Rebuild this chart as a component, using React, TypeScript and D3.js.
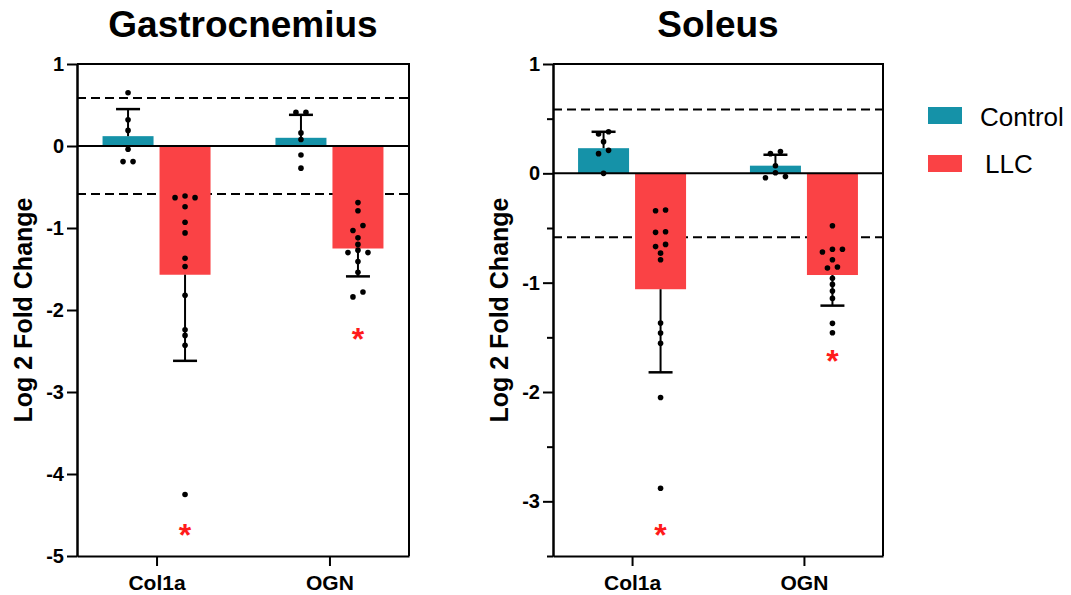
import * as d3 from "d3";
import React, { useRef, useEffect } from "react";

const categories = ["Col1a", "OGN"];
const groups = ["Control", "LLC"];
const groupColors = ["#1592A8", "#FA4245"];

// Gastrocnemius
const gastroControlMean = [0.12, 0.1];
const gastroControlSD = [0.33, 0.28];
const gastroLLCMean = [-1.57, -1.25];
const gastroLLCSD = [1.05, 0.34];
const gastroControlPts = [
  [0.65, 0.32, 0.19, -0.04, -0.19, -0.19],
  [0.41, 0.41, 0.16, 0.08, -0.11, -0.27],
];
const gastroLLCPts = [
  [-0.61, -0.63, -0.63, -0.74, -0.93, -1.06, -1.37, -1.47, -1.82, -2.24, -2.31, -2.43, -4.25],
  [-0.69, -0.79, -0.97, -1.03, -1.12, -1.2, -1.27, -1.3, -1.3, -1.41, -1.54, -1.78, -1.84],
];
const gastroStars = [-4.65, -2.27];

// Soleus
const soleusControlMean = [0.23, 0.07];
const soleusControlSD = [0.15, 0.1];
const soleusLLCMean = [-1.06, -0.93];
const soleusLLCSD = [0.76, 0.28];
const soleusControlPts = [
  [0.38, 0.36, 0.29, 0.21, 0.18, 0.0],
  [0.2, 0.18, 0.07, 0.005, -0.03, -0.04],
];
const soleusLLCPts = [
  [-0.336, -0.342, -0.534, -0.54, -0.65, -0.67, -0.73, -0.79, -1.37, -1.46, -1.555, -2.05, -2.88],
  [-0.48, -0.695, -0.695, -0.72, -0.79, -0.857, -0.866, -0.96, -1.016, -1.077, -1.144, -1.372, -1.458],
];
const soleusStars = [-3.24, -1.65];

const cutoff = Math.log2(1.5); // dashed lines at +/- 1.5 fold

const font = "'Liberation Sans', Arial, sans-serif";

const panels = [
  {
    title: "Gastrocnemius",
    domain: [-5, 1],
    left: 77,
    right: 409,
    means: [gastroControlMean, gastroLLCMean],
    sds: [gastroControlSD, gastroLLCSD],
    pts: [gastroControlPts, gastroLLCPts],
    stars: gastroStars,
  },
  {
    title: "Soleus",
    domain: [-3.5, 1],
    left: 553,
    right: 883,
    means: [soleusControlMean, soleusLLCMean],
    sds: [soleusControlSD, soleusLLCSD],
    pts: [soleusControlPts, soleusLLCPts],
    stars: soleusStars,
  },
];

// spread points that would overlap into a little row
function dodge(values, y) {
  const sorted = values.slice().sort((a, b) => b - a);
  const out = [];
  let i = 0;
  while (i < sorted.length) {
    const start = y(sorted[i]);
    let j = i;
    while (j < sorted.length && y(sorted[j]) - start < 5.3) j++;
    const n = j - i;
    for (let k = 0; k < n; k++) {
      let off;
      if (n % 2 === 1) {
        off = k === 0 ? 0 : Math.ceil(k / 2) * 10 * (k % 2 === 1 ? 1 : -1);
      } else {
        off = (Math.floor(k / 2) * 10 + 5) * (k % 2 === 0 ? 1 : -1);
      }
      out.push({ v: sorted[i + k], dx: off });
    }
    i = j;
  }
  return out;
}

function Chart() {
  const ref = useRef();

  useEffect(() => {
    const svg = d3.select(ref.current);
    svg.selectAll("*").remove();
    draw(svg);
  }, []);

  const draw = (svg) => {
    const top = 64,
      bottom = 556,
      barW = 51,
      half = 28.5;

    panels.forEach((p) => {
      const y = d3.scaleLinear().domain(p.domain).range([bottom, top]);
      const x = d3.scalePoint().domain(categories).range([p.left, p.right]).padding(0.46);
      const g = svg.append("g");

      // dashed cut-off lines
      [cutoff, -cutoff].forEach((c) => {
        g.append("line")
          .attr("x1", p.left)
          .attr("x2", p.right)
          .attr("y1", y(c))
          .attr("y2", y(c))
          .attr("stroke", "#000")
          .attr("stroke-width", 2)
          .attr("stroke-dasharray", "9,5");
      });

      groups.forEach((grp, gi) => {
        const off = gi === 0 ? -half : half;
        categories.forEach((cat, ci) => {
          const m = p.means[gi][ci];
          const cx = x(cat) + off;
          g.append("rect")
            .attr("x", cx - barW / 2)
            .attr("width", barW)
            .attr("y", y(Math.max(0, m)))
            .attr("height", Math.abs(y(m) - y(0)))
            .attr("fill", groupColors[gi]);
        });
      });

      // zero line
      g.append("line")
        .attr("x1", p.left)
        .attr("x2", p.right)
        .attr("y1", y(0))
        .attr("y2", y(0))
        .attr("stroke", "#000")
        .attr("stroke-width", 2);

      groups.forEach((grp, gi) => {
        const off = gi === 0 ? -half : half;
        categories.forEach((cat, ci) => {
          const m = p.means[gi][ci];
          const sd = p.sds[gi][ci];
          const cx = x(cat) + off;
          const end = m >= 0 ? m + sd : m - sd;
          g.append("line")
            .attr("x1", cx)
            .attr("x2", cx)
            .attr("y1", y(m))
            .attr("y2", y(end))
            .attr("stroke", "#000")
            .attr("stroke-width", 2);
          g.append("line")
            .attr("x1", cx - 12)
            .attr("x2", cx + 12)
            .attr("y1", y(end))
            .attr("y2", y(end))
            .attr("stroke", "#000")
            .attr("stroke-width", 2.5);

          g.append("g")
            .selectAll("circle")
            .data(dodge(p.pts[gi][ci], y))
            .enter()
            .append("circle")
            .attr("cx", (d) => cx + d.dx)
            .attr("cy", (d) => y(d.v))
            .attr("r", 2.8)
            .attr("fill", "#000");
        });
      });

      // significance stars on LLC bars
      categories.forEach((cat, ci) => {
        g.append("text")
          .attr("x", x(cat) + half)
          .attr("y", y(p.stars[ci]))
          .attr("dy", "0.57em")
          .attr("text-anchor", "middle")
          .attr("font-family", font)
          .attr("font-weight", "bold")
          .attr("font-size", 32)
          .attr("fill", "#FF1A1A")
          .text("*");
      });

      // axes
      const majors = d3.range(Math.ceil(p.domain[0]), p.domain[1] + 0.001, 1);
      const minors = d3.range(Math.ceil(p.domain[0] * 2) / 2, p.domain[1], 1).filter((v) => v % 1 !== 0);

      g.append("g")
        .attr("transform", `translate(${p.left},0)`)
        .call(d3.axisLeft(y).tickValues(minors).tickSize(6).tickSizeOuter(0).tickFormat(() => ""))
        .call((a) => a.selectAll("line,path").attr("stroke-width", 2));

      const ya = g.append("g")
        .attr("transform", `translate(${p.left},0)`)
        .call(d3.axisLeft(y).tickValues(majors).tickSize(10).tickSizeOuter(0).tickPadding(3).tickFormat((d) => String(d)));
      ya.selectAll("line,path").attr("stroke-width", 2);
      ya.selectAll("text")
        .attr("font-family", font)
        .attr("font-weight", "bold")
        .attr("font-size", 20)
        .attr("fill", "#000");

      const xa = g.append("g")
        .attr("transform", `translate(0,${bottom})`)
        .call(d3.axisBottom(x).tickSize(10).tickSizeOuter(0).tickPadding(9));
      xa.selectAll("line,path").attr("stroke-width", 2);
      xa.selectAll("text")
        .attr("font-family", font)
        .attr("font-weight", "bold")
        .attr("font-size", 21)
        .attr("fill", "#000");

      // frame top and right
      g.append("path")
        .attr("d", `M${p.left},${top}H${p.right}V${bottom}`)
        .attr("fill", "none")
        .attr("stroke", "#000")
        .attr("stroke-width", 2);

      g.append("text")
        .attr("x", (p.left + p.right) / 2)
        .attr("y", 37)
        .attr("text-anchor", "middle")
        .attr("font-family", font)
        .attr("font-weight", "bold")
        .attr("font-size", 37)
        .text(p.title);

      g.append("text")
        .attr("transform", `translate(${p.left - 45},${(top + bottom) / 2})rotate(-90)`)
        .attr("text-anchor", "middle")
        .attr("font-family", font)
        .attr("font-weight", "bold")
        .attr("font-size", 25)
        .text("Log 2 Fold Change");
    });

    // legend
    const lg = svg.append("g");
    groups.forEach((grp, i) => {
      lg.append("rect")
        .attr("x", 928)
        .attr("y", 107 + i * 48)
        .attr("width", 34)
        .attr("height", 17)
        .attr("fill", groupColors[i]);
      lg.append("text")
        .attr("x", 980 + i * 5)
        .attr("y", 126 + i * 47)
        .attr("font-family", font)
        .attr("font-size", 26)
        .text(grp);
    });
  };

  return (
    <svg
      ref={ref}
      width={1071}
      height={595}
      style={{ position: "absolute", left: 0, top: 0, background: "#fff" }}
    ></svg>
  );
}

export default function App() {
  return <Chart />;
}
